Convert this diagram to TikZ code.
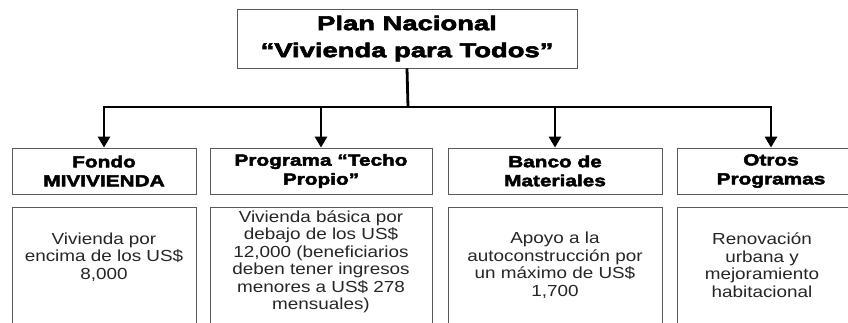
\documentclass[tikz,border=0pt]{standalone}
\usepackage{fontspec}
\setmainfont{Liberation Sans}
\newfontfamily\hfont[FakeStretch=1.3,FakeBold=3]{Liberation Sans}
\newfontfamily\tfont[FakeStretch=1.37,FakeBold=3]{Liberation Sans}
\newfontfamily\bfont[FakeStretch=1.18]{Liberation Sans}
\usetikzlibrary{arrows.meta}
\begin{document}
\begin{tikzpicture}[x=1pt,y=-1pt,
 box/.style={draw=black!65,line width=0.8pt,inner sep=0pt},
 conn/.style={line width=2.8pt,draw=black},
 arr/.style={conn,-{Triangle[width=12pt,length=11pt]}},
 head/.style={align=center,font=\hfont\bfseries\fontsize{16}{19}\selectfont},
 body/.style={align=center,font=\bfont\fontsize{16}{17.5}\selectfont,text=black!85}]
\useasboundingbox (0,0) rectangle (848,323);
\clip (0,0) rectangle (848,323);
\fill[white] (0,0) rectangle (848,323);
% title
\node[box,minimum width=340pt,minimum height=59pt,align=center,
  font=\tfont\bfseries\fontsize{20}{27}\selectfont] (top) at (407,38.5)
  {Plan Nacional\\“Vivienda para Todos”};
% heading boxes
\node[box,head,minimum width=184pt,minimum height=46pt] (h1) at (104,171) {Fondo\\MIVIVIENDA};
\node[box,head,minimum width=222pt,minimum height=46pt] (h2) at (321,171) {Programa “Techo\\Propio”};
\node[box,head,minimum width=214pt,minimum height=46pt] (h3) at (555,171) {Banco de\\Materiales};
\node[box,head,minimum width=188pt,minimum height=46pt] (h4) at (771,171) {Otros\\Programas};
% lower boxes
\node[box,minimum width=184pt,minimum height=130pt] (l1) at (104,272) {};
\node[box,minimum width=222pt,minimum height=130pt] (l2) at (321,272) {};
\node[box,minimum width=214pt,minimum height=130pt] (l3) at (555,272) {};
\node[box,minimum width=188pt,minimum height=130pt] (l4) at (771,272) {};
\node[body] (t1) at (104,257) {Vivienda por\\encima de los US\$\\8,000};
\node[body] (t2) at (321,262) {Vivienda básica por\\debajo de los US\$\\12,000 (beneficiarios\\deben tener ingresos\\menores a US\$ 278\\mensuales)};
\node[body] (t3) at (555,265) {Apoyo a la\\autoconstrucción por\\un máximo de US\$\\1,700};
\node[body] (t4) at (762,265) {Renovación\\urbana y\\mejoramiento\\habitacional};
% connectors
\coordinate (bus) at (408,107);
\draw[conn] (top.south) -- (bus);
\draw[conn,line cap=rect] (h1.north |- bus) -- (h4.north |- bus);
\draw[arr] (h1.north |- bus) -- (h1.north);
\draw[arr] (h2.north |- bus) -- (h2.north);
\draw[arr] (h3.north |- bus) -- (h3.north);
\draw[arr] (h4.north |- bus) -- (h4.north);
\end{tikzpicture}
\end{document}
